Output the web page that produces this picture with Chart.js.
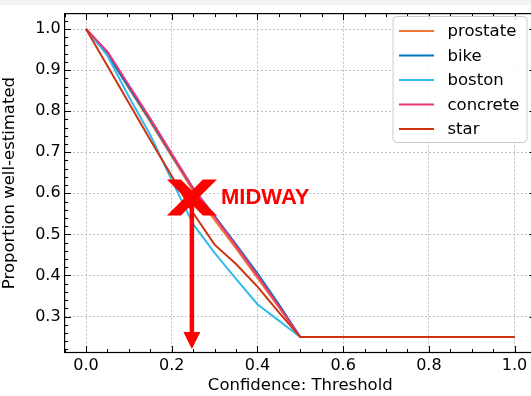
<!DOCTYPE html>
<html><head><meta charset="utf-8">
<script src="https://cdn.jsdelivr.net/npm/chart.js@4.4.0/dist/chart.umd.min.js"></script>
<style>html,body{margin:0;padding:0;background:#fff;overflow:hidden;width:531px;height:396px}
canvas{display:block}</style></head>
<body><canvas id="c" width="545" height="396" style="width:545px;height:396px"></canvas>
<script>
// ---- data ----
const thresholds = [0.00,0.05,0.10,0.15,0.20,0.25,0.30,0.35,0.40,0.45,0.50,0.55,0.60,0.65,0.70,0.75,0.80,0.85,0.90,0.95,1.00];
const seriesNames = ['prostate','bike','boston','concrete','star'];
const seriesColors = ['#EE7733','#0077BB','#33BBEE','#EE3377','#CC3311'];
const prostate = [1.000,0.940,0.856,0.774,0.690,0.606,0.535,0.466,0.394,0.322,0.25,0.25,0.25,0.25,0.25,0.25,0.25,0.25,0.25,0.25,0.25];
const bike     = [1.000,0.938,0.858,0.778,0.694,0.612,0.545,0.476,0.405,0.330,0.25,0.25,0.25,0.25,0.25,0.25,0.25,0.25,0.25,0.25,0.25];
const boston   = [1.000,0.935,0.835,0.742,0.632,0.525,0.455,0.392,0.330,0.290,0.25,0.25,0.25,0.25,0.25,0.25,0.25,0.25,0.25,0.25,0.25];
const concrete = [1.000,0.945,0.863,0.782,0.697,0.612,0.543,0.472,0.400,0.325,0.25,0.25,0.25,0.25,0.25,0.25,0.25,0.25,0.25,0.25,0.25];
const star     = [1.000,0.910,0.820,0.730,0.642,0.552,0.475,0.428,0.373,0.310,0.25,0.25,0.25,0.25,0.25,0.25,0.25,0.25,0.25,0.25,0.25];
const seriesValues = [prostate, bike, boston, concrete, star];

const xTicks = [0.0,0.2,0.4,0.6,0.8,1.0];
const xTickLabels = ['0.0','0.2','0.4','0.6','0.8','1.0'];
const yTicks = [0.3,0.4,0.5,0.6,0.7,0.8,0.9,1.0];
const yTickLabels = ['0.3','0.4','0.5','0.6','0.7','0.8','0.9','1.0'];
const xMinorStep = 0.05;
const yMinorStep = 0.02;
const xRange = [-0.05, 1.05];
const yRange = [0.2125, 1.0375];

const xTitle = 'Confidence: Threshold';
const yTitle = 'Proportion well-estimated';
// annotation
const markPoint = [0.247, 0.59];
const arrowEnd = [0.247, 0.221];
const markLabel = 'MIDWAY';
const markLabelX = 0.315;

const FONT = '"DejaVu Sans", sans-serif';

const datasets = seriesNames.map((n, i) => ({
  label: n,
  data: thresholds.map((t, k) => ({x: t, y: seriesValues[i][k]})),
  borderColor: seriesColors[i],
  backgroundColor: seriesColors[i],
  borderWidth: 2,
  pointRadius: 0,
  tension: 0,
  fill: false,
  order: seriesNames.length - 1 - i
}));

const overlay = {
  id: 'overlay',
  beforeDraw(chart) {
    const ctx = chart.ctx;
    ctx.save();
    ctx.fillStyle = '#fff';
    ctx.fillRect(0, 0, chart.width, chart.height);
    ctx.fillStyle = '#f3f3f3';
    ctx.fillRect(0, 0, chart.width, 5);
    ctx.restore();
  },
  afterDraw(chart) {
    const {ctx, chartArea: a, scales: {x, y}} = chart;
    ctx.save();
    // spines
    ctx.strokeStyle = '#000';
    ctx.lineWidth = 1.2;
    ctx.strokeRect(a.left, a.top, a.right - a.left, a.bottom - a.top);
    // inward ticks
    ctx.lineWidth = 1;
    const majL = 6.5, minL = 3.5;
    ctx.beginPath();
    const eps = 1e-9;
    for (let v = Math.ceil(xRange[0] / xMinorStep - eps) * xMinorStep; v <= xRange[1] + eps; v += xMinorStep) {
      const isMaj = xTicks.some(t => Math.abs(t - v) < 1e-6);
      const L = isMaj ? majL : minL;
      const px = Math.round(x.getPixelForValue(v)) + 0.5;
      ctx.moveTo(px, a.bottom); ctx.lineTo(px, a.bottom - L);
      ctx.moveTo(px, a.top); ctx.lineTo(px, a.top + L);
    }
    for (let v = Math.ceil(yRange[0] / yMinorStep - eps) * yMinorStep; v <= yRange[1] + eps; v += yMinorStep) {
      const isMaj = yTicks.some(t => Math.abs(t - v) < 1e-6);
      const L = isMaj ? majL : minL;
      const py = Math.round(y.getPixelForValue(v)) + 0.5;
      ctx.moveTo(a.left, py); ctx.lineTo(a.left + L, py);
      ctx.moveTo(a.right, py); ctx.lineTo(a.right - L, py);
    }
    ctx.stroke();

    // annotation: arrow
    const cx = x.getPixelForValue(markPoint[0]);
    const cy = y.getPixelForValue(markPoint[1]);
    const tipY = y.getPixelForValue(arrowEnd[1]);
    const headH = 17, headW = 17;
    ctx.fillStyle = '#ff0000';
    ctx.strokeStyle = '#ff0000';
    ctx.lineWidth = 4.5;
    ctx.beginPath();
    ctx.moveTo(cx, cy); ctx.lineTo(cx, tipY - headH + 1);
    ctx.stroke();
    ctx.beginPath();
    ctx.moveTo(cx - headW / 2, tipY - headH);
    ctx.lineTo(cx + headW / 2, tipY - headH);
    ctx.lineTo(cx, tipY);
    ctx.closePath();
    ctx.fill();
    // X marker
    const w = 25, h = 18, t = 14;
    const nY = -h + (w - t) * (2 * h) / (2 * w - t);
    const nX = (2 * w - t) / 2 - w;
    ctx.beginPath();
    ctx.moveTo(cx - w, cy - h);
    ctx.lineTo(cx - w + t, cy - h);
    ctx.lineTo(cx, cy + nY);
    ctx.lineTo(cx + w - t, cy - h);
    ctx.lineTo(cx + w, cy - h);
    ctx.lineTo(cx - nX, cy);
    ctx.lineTo(cx + w, cy + h);
    ctx.lineTo(cx + w - t, cy + h);
    ctx.lineTo(cx, cy - nY);
    ctx.lineTo(cx - w + t, cy + h);
    ctx.lineTo(cx - w, cy + h);
    ctx.lineTo(cx + nX, cy);
    ctx.closePath();
    ctx.fill();
    // label
    ctx.font = 'bold 22px "Liberation Sans", Arial, sans-serif';
    ctx.textAlign = 'left';
    ctx.textBaseline = 'middle';
    ctx.fillText(markLabel, x.getPixelForValue(markLabelX), cy + 1);

    // legend
    const bx = 393, by = 16.5, bw = 134, bh = 126, r = 4;
    ctx.beginPath();
    ctx.moveTo(bx + r, by);
    ctx.arcTo(bx + bw, by, bx + bw, by + bh, r);
    ctx.arcTo(bx + bw, by + bh, bx, by + bh, r);
    ctx.arcTo(bx, by + bh, bx, by, r);
    ctx.arcTo(bx, by, bx + bw, by, r);
    ctx.closePath();
    ctx.fillStyle = 'rgba(255,255,255,0.85)';
    ctx.fill();
    ctx.strokeStyle = '#cccccc';
    ctx.lineWidth = 1;
    ctx.stroke();
    ctx.font = '16.5px ' + FONT;
    ctx.textBaseline = 'middle';
    seriesNames.forEach((n, i) => {
      const ry = 31 + i * 24.5;
      ctx.strokeStyle = seriesColors[i];
      ctx.lineWidth = 2;
      ctx.beginPath();
      ctx.moveTo(399, ry); ctx.lineTo(434, ry);
      ctx.stroke();
      ctx.fillStyle = '#000';
      ctx.fillText(n, 447.5, ry + 1);
    });
    ctx.restore();
  }
};

new Chart(document.getElementById('c'), {
  type: 'line',
  data: {datasets},
  plugins: [overlay],
  options: {
    responsive: false,
    animation: false,
    devicePixelRatio: 1,
    layout: {padding: {top: 7.3, right: 9, left: 0, bottom: 0}},
    plugins: {legend: {display: false}, tooltip: {enabled: false}},
    scales: {
      x: {
        type: 'linear', min: xRange[0], max: xRange[1],
        afterBuildTicks: s => { s.ticks = xTicks.map(v => ({value: v})); },
        afterFit: s => { s.height = 43.5; },
        ticks: {color: '#000', font: {family: FONT, size: 16}, padding: 4,
          maxRotation: 0, autoSkip: false,
          callback: (v, i) => xTickLabels[i]},
        grid: {color: '#b0b0b0', lineWidth: 0.8, drawTicks: false},
        border: {display: false, dash: [2, 2]},
        title: {display: true, text: xTitle, color: '#000', font: {family: FONT, size: 16.5}, padding: {top: 0, bottom: 0}}
      },
      y: {
        type: 'linear', min: yRange[0], max: yRange[1],
        afterBuildTicks: s => { s.ticks = yTicks.map(v => ({value: v})); },
        afterFit: s => { s.width = 64.6; },
        ticks: {color: '#000', font: {family: FONT, size: 16}, padding: 4,
          autoSkip: false, callback: (v, i) => yTickLabels[i]},
        grid: {color: '#b0b0b0', lineWidth: 0.8, drawTicks: false},
        border: {display: false, dash: [2, 2]},
        title: {display: true, text: yTitle, color: '#000', font: {family: FONT, size: 16.5}, padding: {top: 0, bottom: 2}}
      }
    }
  }
});
</script>
</body></html>
